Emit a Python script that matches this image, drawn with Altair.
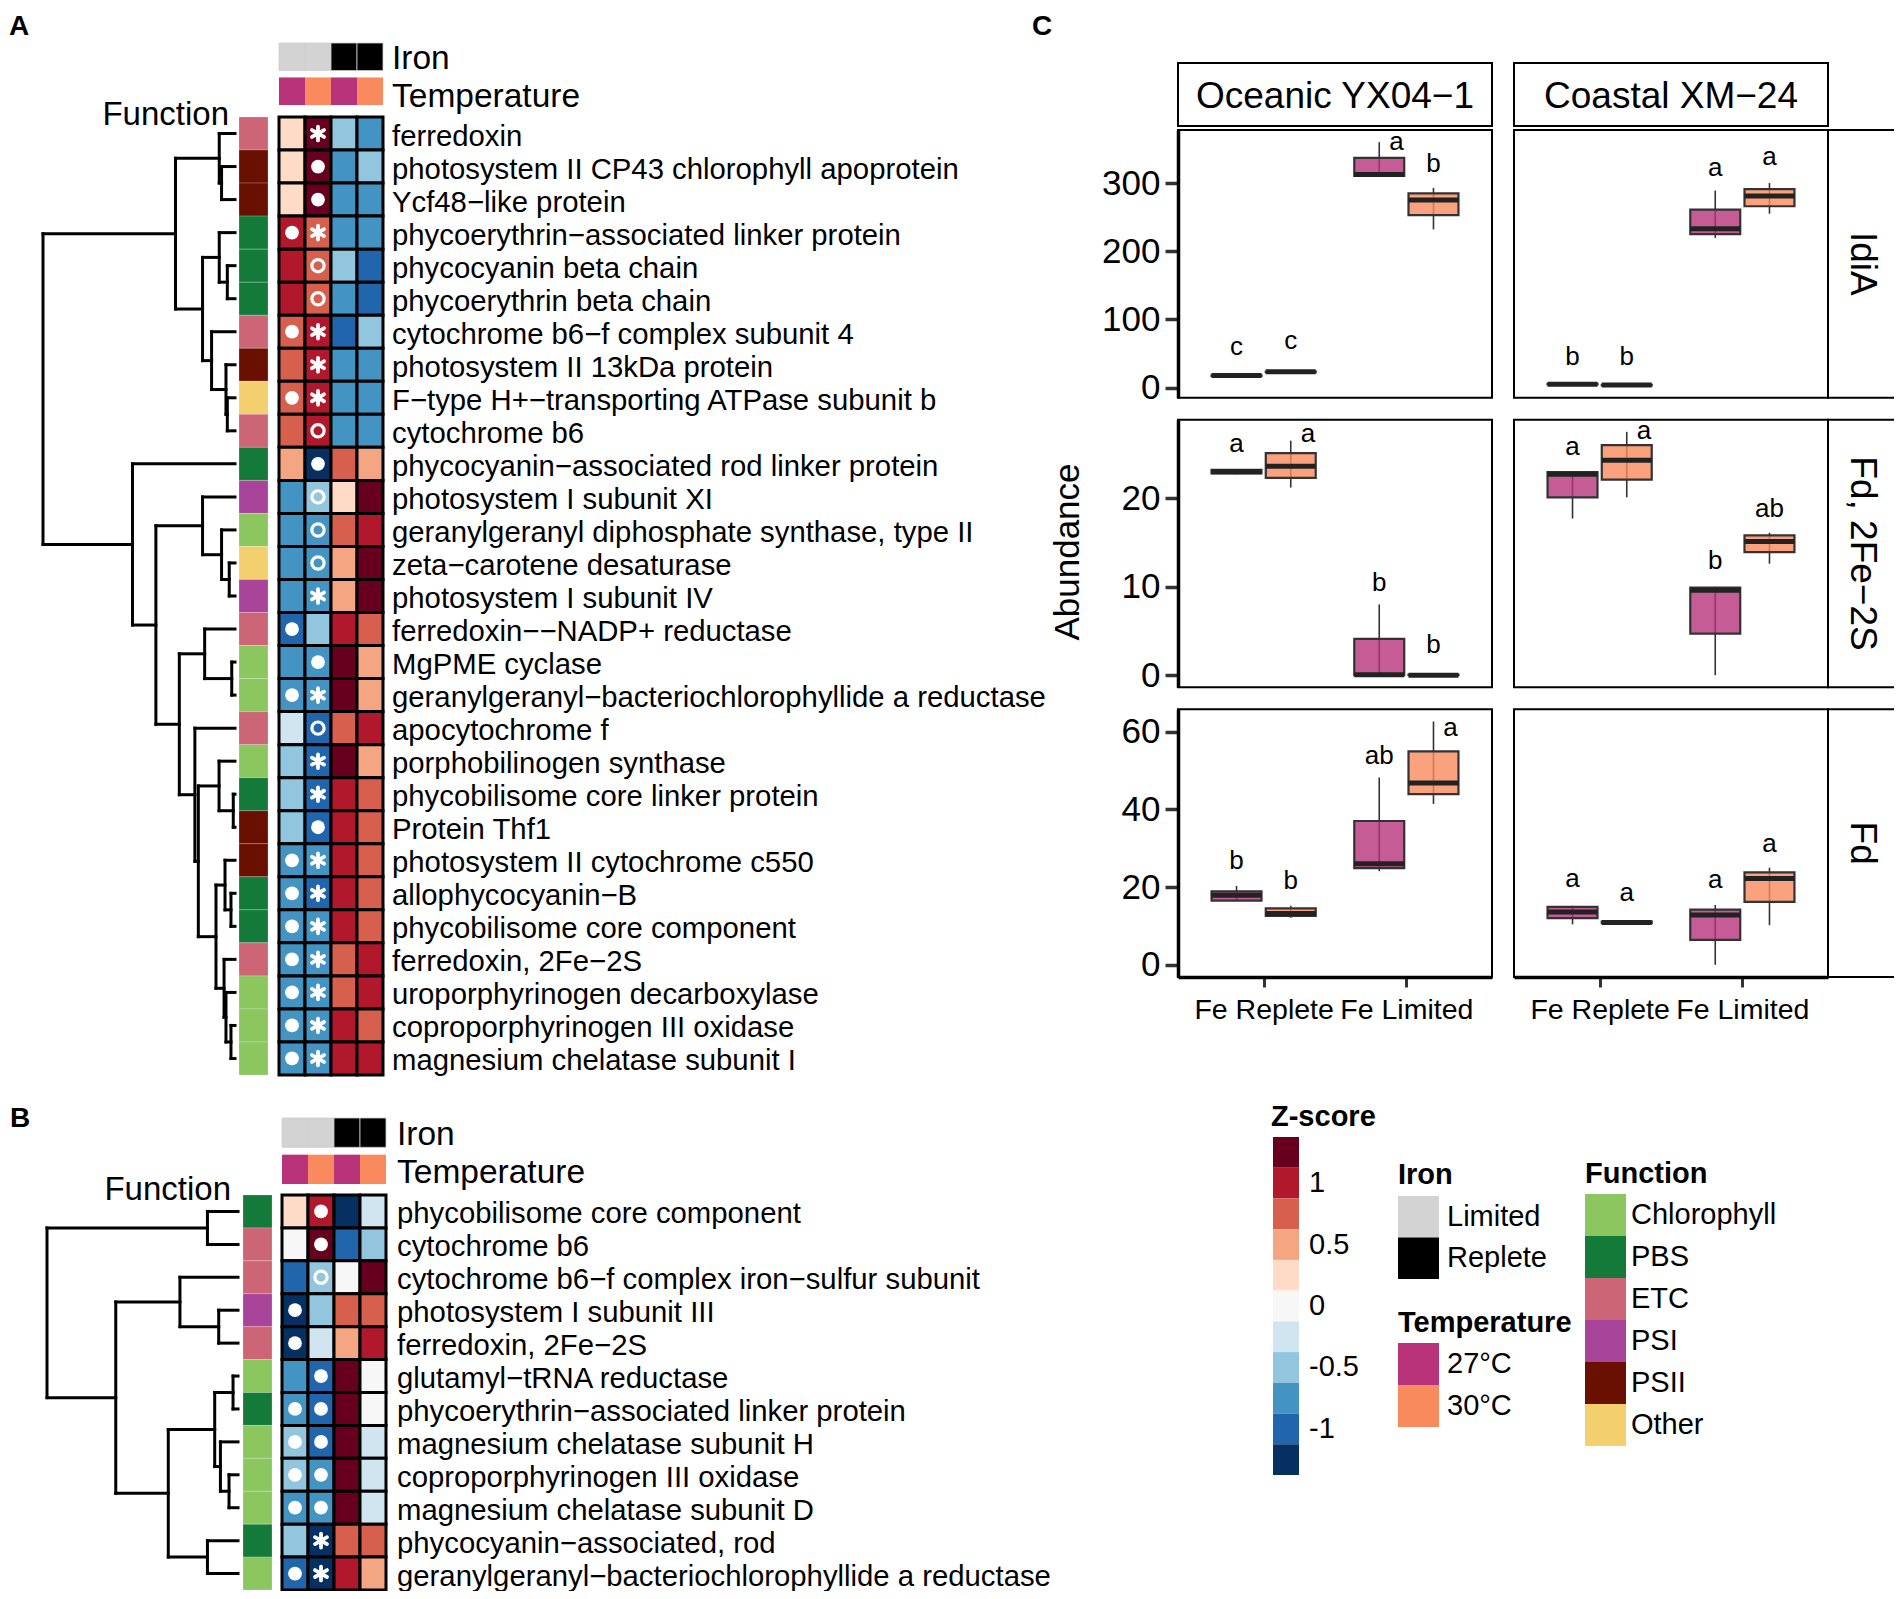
import altair as alt
import pandas as pd

FONT = "Liberation Sans"

# ---------------------------------------------------------------- data
COLS = ["Limited 27°C", "Limited 30°C", "Replete 27°C", "Replete 30°C"]
COL_IRON = ["Limited", "Limited", "Replete", "Replete"]
COL_TEMP = ["27°C", "30°C", "27°C", "30°C"]

Z_LEVELS = [1.25, 1.0, 0.75, 0.5, 0.25, 0.0, -0.25, -0.5, -0.75, -1.0, -1.25]
Z_COLORS = ["#053061", "#2166ac", "#4393c3", "#92c5de", "#d1e5f0", "#f7f7f7",
            "#fddbc7", "#f4a582", "#d6604d", "#b2182b", "#67001f"]
Z_THRESH = [-1.125, -0.875, -0.625, -0.375, -0.125, 0.125, 0.375, 0.625, 0.875, 1.125]
Z_TICKS = [1.0, 0.5, 0.0, -0.5, -1.0]
Z_TICK_LABELS = ["1", "0.5", "0", "-0.5", "-1"]

FUNC_DOMAIN = ["Chlorophyll", "PBS", "ETC", "PSI", "PSII", "Other"]
FUNC_COLORS = ["#8cc65f", "#137a39", "#cc6677", "#a8449a", "#6a1000", "#f4cf6e"]
IRON_DOMAIN = ["Limited", "Replete"]
IRON_COLORS = ["#d3d3d3", "#000000"]
TEMP_DOMAIN = ["27°C", "30°C"]
TEMP_COLORS = ["#b8337a", "#f98a5d"]

A_genes = [
    "ferredoxin", "photosystem II CP43 chlorophyll apoprotein", "Ycf48−like protein",
    "phycoerythrin−associated linker protein", "phycocyanin beta chain",
    "phycoerythrin beta chain", "cytochrome b6−f complex subunit 4",
    "photosystem II 13kDa protein", "F−type H+−transporting ATPase subunit b",
    "cytochrome b6", "phycocyanin−associated rod linker protein",
    "photosystem I subunit XI", "geranylgeranyl diphosphate synthase, type II",
    "zeta−carotene desaturase", "photosystem I subunit IV", "ferredoxin−−NADP+ reductase",
    "MgPME cyclase", "geranylgeranyl−bacteriochlorophyllide a reductase",
    "apocytochrome f", "porphobilinogen synthase", "phycobilisome core linker protein",
    "Protein Thf1", "photosystem II cytochrome c550", "allophycocyanin−B",
    "phycobilisome core component", "ferredoxin, 2Fe−2S", "uroporphyrinogen decarboxylase",
    "coproporphyrinogen III oxidase", "magnesium chelatase subunit I"]
A_function = ["ETC", "PSII", "PSII", "PBS", "PBS", "PBS", "ETC", "PSII", "Other", "ETC",
              "PBS", "PSI", "Chlorophyll", "Other", "PSI", "ETC", "Chlorophyll", "Chlorophyll",
              "ETC", "Chlorophyll", "PBS", "PSII", "PSII", "PBS", "PBS", "ETC",
              "Chlorophyll", "Chlorophyll", "Chlorophyll"]
A_lim27 = [0.25, 0.25, 0.25, 1.0, 1.0, 1.0, 0.75, 0.75, 0.75, 0.75, 0.5, -0.75, -0.75, -0.75,
           -0.75, -1.0, -0.75, -0.75, -0.25, -0.5, -0.5, -0.5, -0.75, -0.75, -0.75, -0.75,
           -0.75, -0.75, -0.75]
A_lim30 = [1.25, 1.25, 1.25, 0.75, 0.75, 0.75, 1.0, 1.0, 1.0, 1.0, -1.25, -0.5, -0.75, -0.75,
           -0.75, -0.5, -0.75, -0.75, -1.0, -1.0, -1.0, -1.0, -0.75, -1.0, -0.75, -0.75,
           -0.75, -0.75, -0.75]
A_rep27 = [-0.5, -0.75, -0.75, -0.75, -0.5, -0.75, -1.0, -0.75, -0.75, -0.75, 0.75, 0.25,
           0.75, 0.5, 0.5, 1.0, 1.25, 1.25, 0.75, 1.25, 1.0, 1.0, 1.0, 1.0, 1.0, 0.75, 0.75,
           1.0, 1.0]
A_rep30 = [-0.75, -0.5, -0.75, -0.75, -1.0, -1.0, -0.5, -0.75, -0.75, -0.75, 0.5, 1.25, 1.0,
           1.25, 1.25, 0.75, 0.5, 0.5, 1.0, 0.5, 0.75, 0.75, 0.75, 0.75, 0.75, 1.0, 1.0,
           0.75, 1.0]
A_sym27 = ["", "", "", "dot", "", "", "dot", "", "dot", "", "", "", "", "", "", "dot", "",
           "dot", "", "", "", "", "dot", "dot", "dot", "dot", "dot", "dot", "dot"]
A_sym30 = ["star", "dot", "dot", "star", "ring", "ring", "star", "star", "star", "ring", "dot",
           "ring", "ring", "ring", "star", "", "dot", "star", "ring", "star", "star", "dot",
           "star", "star", "star", "star", "star", "star", "star"]
A_merge_a = ["L2", "L1", "L5", "L4", "L9", "L8", "L7", "N4", "N2", "L14", "L13", "L12", "L17",
             "L16", "L21", "L20", "L24", "L23", "L28", "L27", "L26", "N18", "N16", "L19",
             "N14", "N12", "L11", "N9"]
A_merge_b = ["L3", "N1", "L6", "N3", "L10", "N5", "N6", "N7", "N8", "L15", "N10", "N11", "L18",
             "N13", "L22", "N15", "L25", "N17", "L29", "N19", "N20", "N21", "N22", "N23",
             "N24", "N25", "N26", "N27"]
A_merge_h = [0.070, 0.082, 0.040, 0.082, 0.040, 0.047, 0.122, 0.169, 0.310, 0.030, 0.070,
             0.169, 0.017, 0.158, 0.009, 0.083, 0.021, 0.052, 0.021, 0.047, 0.057, 0.099,
             0.191, 0.209, 0.290, 0.412, 0.534, 1.0]

B_genes = ["phycobilisome core component", "cytochrome b6",
           "cytochrome b6−f complex iron−sulfur subunit", "photosystem I subunit III",
           "ferredoxin, 2Fe−2S", "glutamyl−tRNA reductase",
           "phycoerythrin−associated linker protein", "magnesium chelatase subunit H",
           "coproporphyrinogen III oxidase", "magnesium chelatase subunit D",
           "phycocyanin−associated, rod", "geranylgeranyl−bacteriochlorophyllide a reductase"]
B_function = ["PBS", "ETC", "ETC", "PSI", "ETC", "Chlorophyll", "PBS", "Chlorophyll",
              "Chlorophyll", "Chlorophyll", "PBS", "Chlorophyll"]
B_lim27 = [0.25, 0.0, -1.0, -1.25, -1.25, -0.75, -0.75, -0.5, -0.5, -0.75, -0.5, -1.0]
B_lim30 = [1.0, 1.25, -0.5, -0.5, -0.25, -1.0, -1.0, -1.0, -0.75, -0.75, -1.25, -1.25]
B_rep27 = [-1.25, -1.0, 0.0, 0.75, 0.5, 1.25, 1.25, 1.25, 1.25, 1.25, 0.75, 1.0]
B_rep30 = [-0.25, -0.5, 1.25, 0.75, 1.0, 0.0, 0.0, -0.25, -0.25, -0.25, 0.75, 0.5]
B_sym27 = ["", "", "", "dot", "dot", "", "dot", "dot", "dot", "dot", "", "dot"]
B_sym30 = ["dot", "dot", "ring", "", "", "dot", "dot", "dot", "dot", "dot", "star", "star"]
B_merge_a = ["L1", "L4", "L3", "L6", "L9", "L8", "N4", "L11", "N7", "N3", "N1"]
B_merge_b = ["L2", "L5", "N2", "L7", "L10", "N5", "N6", "L12", "N8", "N9", "N10"]
B_merge_h = [0.160, 0.101, 0.304, 0.026, 0.047, 0.092, 0.122, 0.160, 0.365, 0.640, 1.0]

# panel C: order gene -> strain -> iron -> temperature
C_genes = ["IdiA", "Fd, 2Fe−2S", "Fd"]
C_strains = ["Oceanic YX04−1", "Coastal XM−24"]
C_iron = ["Fe Replete", "Fe Limited"]
C_temps = ["27°C", "30°C"]
C_yticks = [[0, 100, 200, 300], [0, 10, 20], [0, 20, 40, 60]]
C_min = [16.5, 22, 310, 232, 4, 3, 219.5, 255,
         22.7, 21.2, 0, 0, 17.7, 20.1, 0, 12.6,
         16.5, 12.1, 24.1, 41.4, 10.4, 10.5, 0, 10.2]
C_q1 = [17, 22.5, 310.5, 253, 4.5, 3.3, 225, 266,
        22.8, 22.3, 0, 0, 20.1, 22.1, 4.7, 13.9,
        16.5, 12.6, 24.9, 43.9, 12.0, 10.7, 6.4, 16.2]
C_med = [17.5, 23, 312.5, 275, 5, 3.6, 233, 281,
         23.0, 23.6, 0.05, 0, 22.7, 24.3, 9.6, 15.1,
         17.9, 13.2, 26.0, 46.8, 13.6, 10.9, 12.8, 22.2]
C_q3 = [18, 23.5, 337, 285, 5.5, 3.9, 261, 291,
        23.2, 25.1, 4.1, 0.05, 22.95, 26.0, 9.9, 15.8,
        18.9, 14.5, 37.0, 54.9, 14.9, 11.1, 14.2, 23.8]
C_max = [18.5, 24, 360, 293, 6, 4.2, 289, 300,
         23.3, 26.5, 8.0, 0.1, 23.0, 27.5, 10.0, 16.1,
         20.3, 15.2, 48.2, 62.6, 15.2, 11.2, 15.4, 25.0]
C_letter = ["c", "c", "a", "b", "b", "b", "a", "a",
            "a", "a", "b", "b", "a", "a", "b", "ab",
            "b", "b", "ab", "a", "a", "a", "a", "a"]
C_letter_y = [47.8, 56.1, 349, 316, 33, 33, 310, 327,
              25.2, 26.3, 9.5, 2.5, 24.9, 26.7, 12.0, 17.9,
              24.6, 19.5, 51.6, 58.9, 20.1, 16.4, 19.8, 29.0]
C_letter_dx = [0, 0, 0.12, 0, 0, 0, 0, 0,
               0, 0.12, 0, 0, 0, 0.12, 0, 0,
               0, 0, 0, 0.12, 0, 0, 0, 0]

# ---------------------------------------------------------------- layout (canvas px)
W, H = 1886, 1583
LA = dict(hx=[271, 375], fx=[231, 260], dx=[227, 35], ry=[109, 1067], ay=[35, 97],
          lab_x=384, flab=(221, 107), letter=("A", 11, 19), tdy=(2, 6))
LB = dict(hx=[274, 378], fx=[235, 264], dx=[230, 39], ry=[1187, 1582], ay=[1110, 1176],
          lab_x=389, flab=(223, 1182), letter=("B", 12, 1111), tdy=(2, 4))
C_X, C_GAP_X = [1170, 1820], 22
C_Y, C_GAP_Y = [122, 969], 22
C_STRIP_TOP = [55, 118]
C_STRIP_RIGHT = [1820, 1887]
STAR = "M0,-1L0,1M-0.87,-0.5L0.87,0.5M-0.87,0.5L0.87,-0.5"


def sc_band(domain, rng, pad=0.0):
    return alt.Scale(type="band", domain=list(domain), range=list(rng),
                     paddingInner=pad, paddingOuter=0)


def sc_lin(domain, rng):
    return alt.Scale(type="linear", domain=list(domain), range=list(rng), nice=False,
                     zero=False)


def zscale():
    return alt.Scale(type="threshold", domain=Z_THRESH, range=Z_COLORS)


def text_at(txt, x, y, size, **kw):
    return alt.Chart(pd.DataFrame({"t": [txt]})).mark_text(
        fontSize=size, color="black", font=FONT, **kw).encode(
        x=alt.value(x), y=alt.value(y), text="t:N")


def dendro(m_a, m_b, m_h, n):
    pos = {f"L{i + 1}": (i + 0.5, 0.0) for i in range(n)}
    segs = []
    for k, (a, b, h) in enumerate(zip(m_a, m_b, m_h)):
        ya, ha = pos[a]
        yb, hb = pos[b]
        segs.append(dict(h=ha, h2=h, y=ya, y2=ya))
        segs.append(dict(h=hb, h2=h, y=yb, y2=yb))
        segs.append(dict(h=h, h2=h, y=ya, y2=yb))
        pos[f"N{k + 1}"] = ((ya + yb) / 2, h)
    return pd.DataFrame(segs)


def heat_layers(genes, funcs, vals, syms, m_a, m_b, m_h, L):
    n = len(genes)
    out = []
    cells = pd.DataFrame([{"gene": g, "col": c, "z": vals[j][i]}
                          for i, g in enumerate(genes) for j, c in enumerate(COLS)])
    X = lambda: alt.X("col:N", scale=sc_band(COLS, L["hx"]), axis=None)
    Y = lambda: alt.Y("gene:N", scale=sc_band(genes, L["ry"]), axis=None)
    out.append(alt.Chart(cells).mark_rect(stroke="black", strokeWidth=3).encode(
        x=X(), y=Y(), fill=alt.Fill("z:Q", scale=zscale(), legend=None)))
    sym = pd.DataFrame([{"gene": g, "col": COLS[j], "sym": syms[j][i]}
                        for i, g in enumerate(genes) for j in range(2) if syms[j][i]])
    out.append(alt.Chart(sym).transform_filter(alt.datum.sym == "dot").mark_point(
        shape="circle", filled=True, color="white", opacity=1, size=190, strokeWidth=0
    ).encode(x=X(), y=Y()))
    out.append(alt.Chart(sym).transform_filter(alt.datum.sym == "ring").mark_point(
        shape="circle", filled=False, color="white", opacity=1, size=150, strokeWidth=3.2
    ).encode(x=X(), y=Y()))
    out.append(alt.Chart(sym).transform_filter(alt.datum.sym == "star").mark_point(
        shape=STAR, filled=False, color="white", opacity=1, size=190, strokeWidth=3.8,
        strokeCap="round").encode(x=X(), y=Y()))
    # annotation tracks
    tracks = ["Iron", "Temperature"]
    TY = lambda: alt.Y("track:N", scale=sc_band(tracks, L["ay"], 0.2), axis=None)
    iron = pd.DataFrame([{"track": "Iron", "col": c, "level": COL_IRON[j]}
                         for j, c in enumerate(COLS)])
    temp = pd.DataFrame([{"track": "Temperature", "col": c, "level": COL_TEMP[j]}
                         for j, c in enumerate(COLS)])
    out.append(alt.Chart(iron).mark_rect(stroke="#cfcfcf", strokeWidth=0.8).encode(
        x=X(), y=TY(),
        fill=alt.Fill("level:N", scale=alt.Scale(domain=IRON_DOMAIN, range=IRON_COLORS),
                      legend=None)))
    out.append(alt.Chart(temp).mark_rect().encode(
        x=X(), y=TY(),
        fill=alt.Fill("level:N", scale=alt.Scale(domain=TEMP_DOMAIN, range=TEMP_COLORS),
                      legend=None)))
    for tname, tdy in zip(tracks, L["tdy"]):
        out.append(alt.Chart(pd.DataFrame({"track": [tname]})).mark_text(
            align="left", baseline="middle", fontSize=33.5, font=FONT, color="black",
            dy=tdy).encode(x=alt.value(L["lab_x"]), y=TY(), text="track:N"))
    # row labels
    out.append(alt.Chart(pd.DataFrame({"gene": genes})).mark_text(
        align="left", baseline="middle", fontSize=29.3, font=FONT, color="black", dy=3).encode(
        x=alt.value(L["lab_x"]), y=Y(), text="gene:N"))
    # function bar
    fdf = pd.DataFrame({"gene": genes, "func": funcs, "k": "Function"})
    out.append(alt.Chart(fdf).mark_rect(stroke="white", strokeWidth=0.6, strokeOpacity=0.35).encode(
        x=alt.X("k:N", scale=sc_band(["Function"], L["fx"]), axis=None), y=Y(),
        fill=alt.Fill("func:N", scale=alt.Scale(domain=FUNC_DOMAIN, range=FUNC_COLORS),
                      legend=None)))
    out.append(text_at("Function", L["flab"][0], L["flab"][1], 33, align="right",
                       baseline="middle"))
    # dendrogram
    seg = dendro(m_a, m_b, m_h, n)
    out.append(alt.Chart(seg).mark_rule(color="black", strokeWidth=3, strokeCap="square").encode(
        x=alt.X("h:Q", scale=sc_lin([0, 1], L["dx"]), axis=None), x2="h2:Q",
        y=alt.Y("y:Q", scale=sc_lin([0, n], L["ry"]), axis=None), y2="y2:Q"))
    lt, lx, ly = L["letter"]
    out.append(text_at(lt, lx, ly, 28, fontWeight="bold", align="center", baseline="middle"))
    return out


layers = []
layers += heat_layers(A_genes, A_function, [A_lim27, A_lim30, A_rep27, A_rep30],
                      [A_sym27, A_sym30], A_merge_a, A_merge_b, A_merge_h, LA)
layers += heat_layers(B_genes, B_function, [B_lim27, B_lim30, B_rep27, B_rep30],
                      [B_sym27, B_sym30], B_merge_a, B_merge_b, B_merge_h, LB)

# ---------------------------------------------------------------- panel C
pw = (C_X[1] - C_X[0] - C_GAP_X) / 2
ph = (C_Y[1] - C_Y[0] - 2 * C_GAP_Y) / 3
col_rng = [[C_X[0] + c * (pw + C_GAP_X), C_X[0] + c * (pw + C_GAP_X) + pw] for c in range(2)]
row_rng = [[C_Y[0] + r * (ph + C_GAP_Y), C_Y[0] + r * (ph + C_GAP_Y) + ph] for r in range(3)]
pad_x = C_GAP_X / (pw + C_GAP_X)
pad_y = C_GAP_Y / (ph + C_GAP_Y)
XDOM = [0.4, 2.6]

recs = []
k = 0
for gi, g in enumerate(C_genes):
    for si, s in enumerate(C_strains):
        for ii, iron_lv in enumerate(C_iron):
            for ti, t in enumerate(C_temps):
                xc = ii + 1 + (-0.19 if ti == 0 else 0.19)
                recs.append(dict(gene=g, strain=s, temp=t, xc=xc, xl=xc - 0.175, xr=xc + 0.175,
                                 lo=C_min[k], q1=C_q1[k], med=C_med[k], q3=C_q3[k], hi=C_max[k],
                                 letter=C_letter[k], ly=C_letter_y[k], lx=xc + C_letter_dx[k]))
                k += 1
cdf = pd.DataFrame(recs)

for gi, g in enumerate(C_genes):
    sub_g = cdf[cdf.gene == g]
    lo, hi = sub_g.lo.min(), sub_g.hi.max()
    ydom = [lo - 0.05 * (hi - lo), hi + 0.05 * (hi - lo)]
    yr = [row_rng[gi][1], row_rng[gi][0]]
    for si, s in enumerate(C_strains):
        d = sub_g[sub_g.strain == s]
        xr = col_rng[si]
        XS = lambda f, ax=None: alt.X(f, scale=sc_lin(XDOM, xr), axis=ax)
        YS = lambda f, ax=None: alt.Y(f, scale=sc_lin(ydom, yr), axis=ax)
        yax = None
        if si == 0:
            yax = alt.Axis(orient="left", offset=-xr[0], values=C_yticks[gi], grid=False,
                           domain=True, domainColor="black", domainWidth=3.5, ticks=True,
                           tickSize=13, tickWidth=3.5, tickColor="#333333", labelFontSize=35,
                           labelFont=FONT, labelColor="black", labelPadding=5, title=None)
        xax = None
        if gi == 2:
            expr = f"datum.value == 1 ? '{C_iron[0]}' : '{C_iron[1]}'"
            xax = alt.Axis(orient="bottom", offset=-(H - yr[0]), values=[1, 2], labelExpr=expr,
                           grid=False, domain=True, domainColor="black", domainWidth=3.5,
                           ticks=True, tickSize=10, tickWidth=3, tickColor="#333333",
                           labelFontSize=28.5, labelFont=FONT, labelColor="black",
                           labelPadding=8, title=None)
        layers.append(alt.Chart(d).mark_rule(color="#333333", strokeWidth=1.6).encode(
            x=XS("xc:Q", xax), y=YS("lo:Q", yax), y2="hi:Q"))
        layers.append(alt.Chart(d).mark_rect(stroke="#333333", strokeWidth=2.2, fillOpacity=0.8).encode(
            x=XS("xl:Q"), x2="xr:Q", y=YS("q1:Q"), y2="q3:Q",
            fill=alt.Fill("temp:N", scale=alt.Scale(domain=TEMP_DOMAIN, range=TEMP_COLORS),
                          legend=None)))
        layers.append(alt.Chart(d).mark_rule(color="#222222", strokeWidth=5).encode(
            x=XS("xl:Q"), x2="xr:Q", y=YS("med:Q")))
        layers.append(alt.Chart(d).mark_text(fontSize=26, font=FONT, color="black",
                                             baseline="alphabetic").encode(
            x=XS("lx:Q"), y=YS("ly:Q"), text="letter:N"))

# panel frames + strips
frames = pd.DataFrame([{"strain": s, "gene": g} for s in C_strains for g in C_genes])
SX = lambda: alt.X("strain:N", scale=sc_band(C_strains, C_X, pad_x), axis=None)
SY = lambda: alt.Y("gene:N", scale=sc_band(C_genes, C_Y, pad_y), axis=None)
layers.append(alt.Chart(frames).mark_rect(fill="white", fillOpacity=0, stroke="black",
                                          strokeWidth=2).encode(x=SX(), y=SY()))
top = pd.DataFrame({"strain": C_strains, "k": "strip"})
TYS = lambda: alt.Y("k:N", scale=sc_band(["strip"], C_STRIP_TOP), axis=None)
layers.append(alt.Chart(top).mark_rect(fill="white", stroke="black", strokeWidth=2).encode(
    x=SX(), y=TYS()))
layers.append(alt.Chart(top).mark_text(fontSize=37, font=FONT, color="black",
                                       baseline="middle", dy=2).encode(
    x=SX(), y=TYS(), text="strain:N"))
right = pd.DataFrame({"gene": C_genes, "k": "strip"})
RXS = lambda: alt.X("k:N", scale=sc_band(["strip"], C_STRIP_RIGHT), axis=None)
layers.append(alt.Chart(right).mark_rect(fill="white", stroke="black", strokeWidth=2).encode(
    x=RXS(), y=SY()))
layers.append(alt.Chart(right).mark_text(fontSize=37, font=FONT, color="black", angle=90,
                                         baseline="middle", dy=0).encode(
    x=RXS(), y=SY(), text="gene:N"))
layers.append(text_at("Abundance", 1060, 544, 35, angle=270, align="center", baseline="middle"))
layers.append(text_at("C", 1034, 19, 28, fontWeight="bold", align="center", baseline="middle"))

# ---------------------------------------------------------------- legends
zl = pd.DataFrame({"lv": Z_LEVELS, "key": [f"{v:+.2f}" for v in Z_LEVELS], "k": "z"})
ZY = lambda: alt.Y("key:N", scale=sc_band(list(zl.key), [1129, 1467]), axis=None)
layers.append(alt.Chart(zl).mark_rect().encode(
    x=alt.X("k:N", scale=sc_band(["z"], [1265, 1291]), axis=None), y=ZY(),
    fill=alt.Fill("lv:Q", scale=zscale(), legend=None)))
zt = pd.DataFrame({"key": [f"{v:+.2f}" for v in Z_TICKS], "lab": Z_TICK_LABELS})
layers.append(alt.Chart(zt).mark_text(align="left", baseline="middle", fontSize=29, font=FONT,
                                      color="black").encode(
    x=alt.value(1301), y=ZY(), text="lab:N"))
layers.append(text_at("Z-score", 1263, 1109, 29, fontWeight="bold", align="left",
                      baseline="middle"))


def cat_legend(title, domain, colors, xr, yr, lab_x, title_y):
    df = pd.DataFrame({"c": domain, "k": "s"})
    Yc = lambda: alt.Y("c:N", scale=sc_band(domain, yr), axis=None)
    res = [alt.Chart(df).mark_rect().encode(
        x=alt.X("k:N", scale=sc_band(["s"], xr), axis=None), y=Yc(),
        fill=alt.Fill("c:N", scale=alt.Scale(domain=domain, range=colors), legend=None)),
        alt.Chart(df).mark_text(align="left", baseline="middle", fontSize=29, font=FONT,
                                color="black").encode(x=alt.value(lab_x), y=Yc(), text="c:N"),
        text_at(title, xr[0], title_y, 29, fontWeight="bold", align="left", baseline="middle")]
    return res


layers += cat_legend("Iron", IRON_DOMAIN, IRON_COLORS, [1390, 1431], [1188, 1271], 1439, 1167)
layers += cat_legend("Temperature", TEMP_DOMAIN, TEMP_COLORS, [1390, 1431], [1335, 1419], 1439, 1315)
layers += cat_legend("Function", FUNC_DOMAIN, FUNC_COLORS, [1577, 1618], [1186, 1438], 1623, 1166)

chart = alt.layer(*layers).resolve_scale(
    x="independent", y="independent", fill="independent", color="independent",
    shape="independent", size="independent", opacity="independent"
).properties(width=W, height=H, padding=0, autosize=alt.AutoSizeParams(type="none"),
             background="white"
).configure_view(stroke=None)

chart.save("out.html", embed_options={"renderer": "svg", "actions": False})
